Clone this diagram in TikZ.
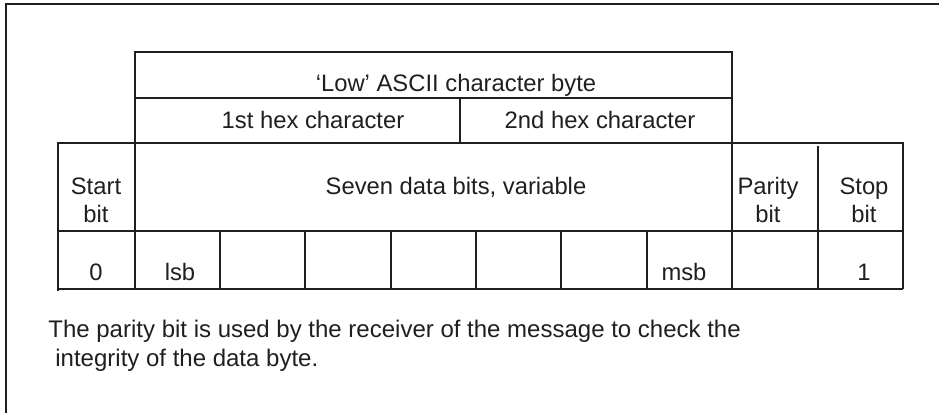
\documentclass[tikz,border=0pt]{standalone}
\usepackage{fontspec}
\setmainfont{Liberation Sans}
\begin{document}
\begin{tikzpicture}[x=0.5pt,y=-0.5pt,
  rule/.style={draw=black!88,line width=0.85pt},
  lbl/.style={inner sep=0pt,anchor=base,text=black!88,font=\fontsize{11.9}{14}\selectfont},
  note/.style={inner sep=0pt,anchor=base west,text=black!88,font=\fontsize{12}{14}\selectfont}]
\useasboundingbox (0,0) rectangle (939,413);
% outer frame
\draw[rule] (6,413) -- (6,4) -- (939,4);
% upper header box
\draw[rule] (135,289) -- (135,52) -- (732,52) -- (732,289);
\draw[rule] (135,98) -- (732,98);
\draw[rule] (460,98) -- (460,143);
% main frame
\draw[rule] (58,291) -- (58,143) -- (903,143) -- (903,289);
\draw[rule] (58,231) -- (903,231);
\draw[rule] (58,289) -- (903,289);
\draw[rule] (818,146) -- (818,289);
\foreach \x in {220,305,391,476,561,647} \draw[rule] (\x,231) -- (\x,289);
% header texts
\node[lbl] (ascii) at (456,91) {‘Low’ ASCII character byte};
\node[lbl] (hex1) at (313,128) {1st hex character};
\node[lbl] (hex2) at (600,128) {2nd hex character};
% main row
\node[lbl] (start1) at (96,194) {Start};
\node[lbl] (start2) at (96,222) {bit};
\node[lbl] (seven) at (456,194) {Seven data bits, variable};
\node[lbl] (par1) at (768,194) {Parity};
\node[lbl] (par2) at (768,222) {bit};
\node[lbl] (stop1) at (864,194) {Stop};
\node[lbl] (stop2) at (864,222) {bit};
% bit row
\node[lbl] (b0) at (96,280) {0};
\node[lbl] (lsb) at (180,280) {lsb};
\node[lbl] (msb) at (684,280) {msb};
\node[lbl] (b1) at (864,280) {1};
% footnote
\node[note] (n1) at (48,337) {The parity bit is used by the receiver of the message to check the};
\node[note] (n2) at (55,366) {integrity of the data byte.};
\end{tikzpicture}
\end{document}
